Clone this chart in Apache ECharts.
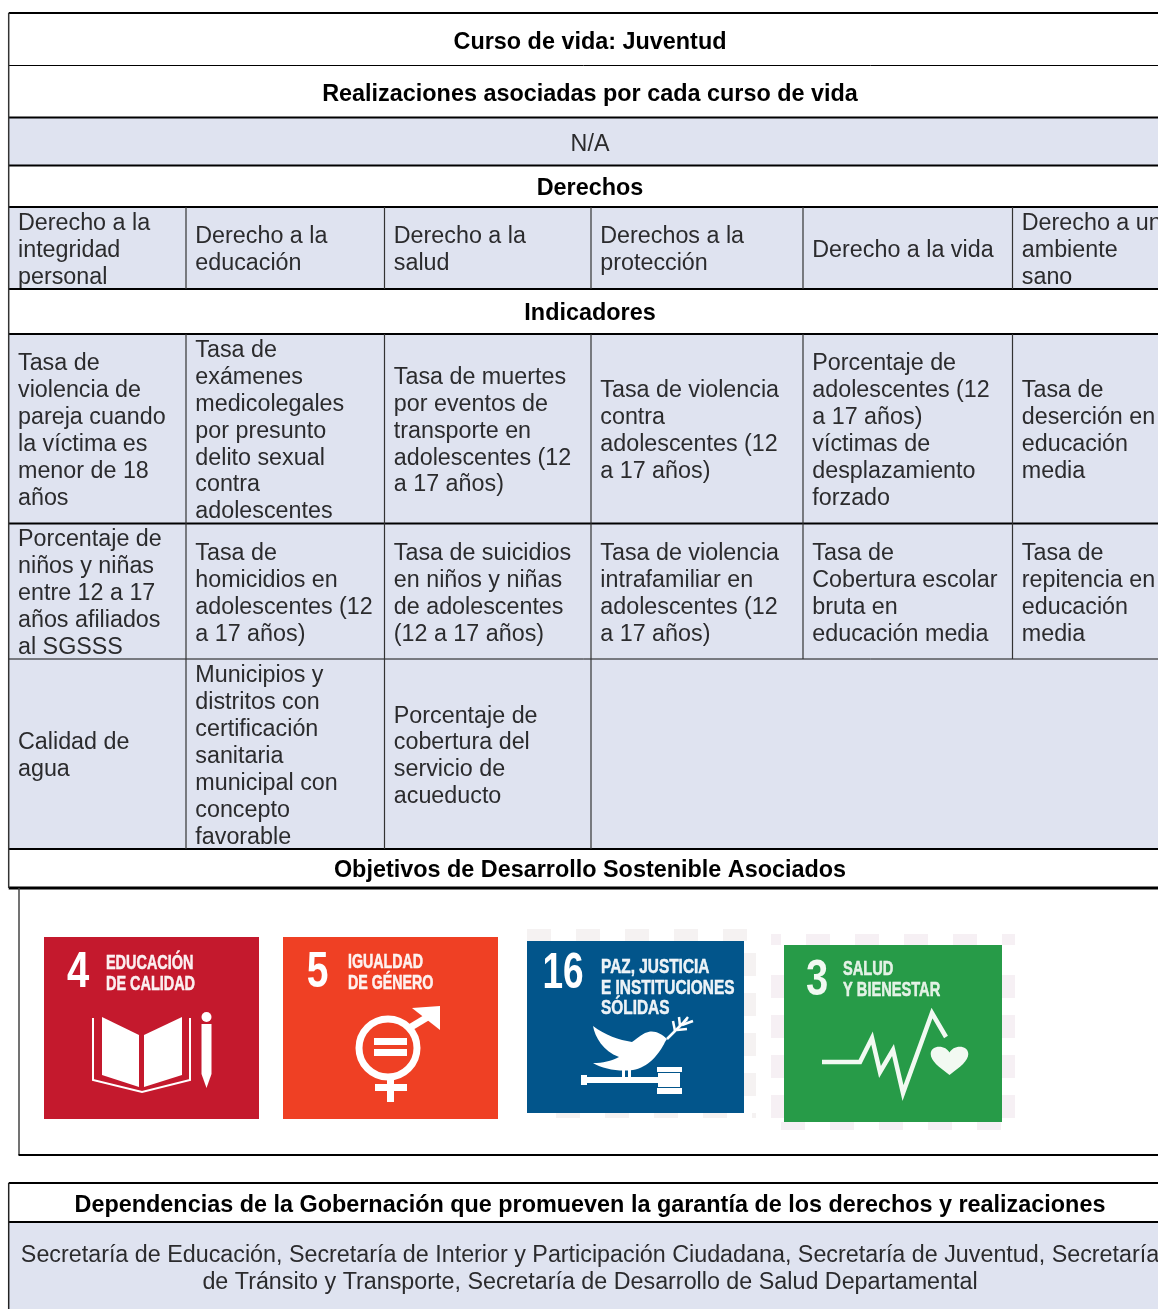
<!DOCTYPE html>
<html lang="es">
<head>
    <meta charset="UTF-8">
    <title>Curso de vida: Juventud</title>
    <script src="https://cdn.jsdelivr.net/npm/echarts@6/dist/echarts.min.js"></script>
</head>
<style>
    *{
        margin: 0;
        padding: 0;
    }
    html,body{
        width: 100%;
        height: 100%;
        overflow: hidden;
        background: #fff;
    }
    .container{
        width: 1158px;
        height: 1309px;
    }
</style>
<body>
<div class="container"></div>
<script>
    // table text
    let courseTitle='Curso de vida: Juventud';
    let fulfilmentsTitle='Realizaciones asociadas por cada curso de vida';
    let fulfilmentsValue='N/A';
    let rightsTitle='Derechos';
    let rights=[
        'Derecho a la\nintegridad\npersonal',
        'Derecho a la\neducación',
        'Derecho a la\nsalud',
        'Derechos a la\nprotección',
        'Derecho a la vida',
        'Derecho a un\nambiente\nsano'
    ];
    let indicatorsTitle='Indicadores';
    let indicatorsRow1=[
        'Tasa de\nviolencia de\npareja cuando\nla víctima es\nmenor de 18\naños',
        'Tasa de\nexámenes\nmedicolegales\npor presunto\ndelito sexual\ncontra\nadolescentes',
        'Tasa de muertes\npor eventos de\ntransporte en\nadolescentes (12\na 17 años)',
        'Tasa de violencia\ncontra\nadolescentes (12\na 17 años)',
        'Porcentaje de\nadolescentes (12\na 17 años)\nvíctimas de\ndesplazamiento\nforzado',
        'Tasa de\ndeserción en\neducación\nmedia'
    ];
    let indicatorsRow2=[
        'Porcentaje de\nniños y niñas\nentre 12 a 17\naños afiliados\nal SGSSS',
        'Tasa de\nhomicidios en\nadolescentes (12\na 17 años)',
        'Tasa de suicidios\nen niños y niñas\nde adolescentes\n(12 a 17 años)',
        'Tasa de violencia\nintrafamiliar en\nadolescentes (12\na 17 años)',
        'Tasa de\nCobertura escolar\nbruta en\neducación media',
        'Tasa de\nrepitencia en\neducación\nmedia'
    ];
    let indicatorsRow3=[
        'Calidad de\nagua',
        'Municipios y\ndistritos con\ncertificación\nsanitaria\nmunicipal con\nconcepto\nfavorable',
        'Porcentaje de\ncobertura del\nservicio de\nacueducto'
    ];
    let sdgTitle='Objetivos de Desarrollo Sostenible Asociados';
    let officesTitle='Dependencias de la Gobernación que promueven la garantía de los derechos y realizaciones';
    let officesText='Secretaría de Educación, Secretaría de Interior y Participación Ciudadana, Secretaría de Juventud, Secretaría\nde Tránsito y Transporte, Secretaría de Desarrollo de Salud Departamental';

    // SDG tiles
    let tileNumbers=['4','5','16','3'];
    let tileTitles=[
        ['EDUCACIÓN','DE CALIDAD'],
        ['IGUALDAD','DE GÉNERO'],
        ['PAZ, JUSTICIA','E INSTITUCIONES','SÓLIDAS'],
        ['SALUD','Y BIENESTAR']
    ];

    // layout, in page pixels (the hidden axes run 1:1 with the page)
    let left=8.7, right=1158, center=590;
    let colEdges=[8.7,186,384.5,591,803,1012.5,1158];
    let rowY={top:13,a:65.5,b:117.5,c:165.5,d:207,e:289,f:334,g:523.5,h:659,i:849,j:888,frame:1155,k:1183,l:1222,bottom:1309};
    let tileBoxes=[[44,937,259,1119],[283,937,498,1119],[527,941,744,1113],[784,945,1002,1122]];
    let tileColors=['#c4192d','#ef4024','#02558b','#279b48'];
    let textColor='#2b2b2d', fillBlue='#dfe3f0';
    let font='"Liberation Sans", Arial, sans-serif';

    let cells=[];
    function band(y0,y1,text,bold,fill,dy){
        cells.push({x0:left,y0,x1:right,y1,text,bold,fill,align:'center',dy:dy||0});
    }
    function cols(y0,y1,texts){
        texts.forEach((text,i)=>{
            cells.push({x0:colEdges[i],y0,x1:colEdges[i+1],y1,text,fill:fillBlue,align:'left',dy:0});
        });
    }
    band(rowY.top,rowY.a,courseTitle,true,null,1);
    band(rowY.a,rowY.b,fulfilmentsTitle,true,null,1);
    band(rowY.b,rowY.c,fulfilmentsValue,false,fillBlue,1);
    band(rowY.c,rowY.d,rightsTitle,true);
    band(rowY.d,rowY.e,'',false,fillBlue);
    cols(rowY.d,rowY.e,rights);
    band(rowY.e,rowY.f,indicatorsTitle,true);
    band(rowY.f,rowY.i,'',false,fillBlue);
    cols(rowY.f,rowY.g,indicatorsRow1);
    cols(rowY.g,rowY.h,indicatorsRow2);
    cols(rowY.h,rowY.i,indicatorsRow3);
    band(rowY.i,rowY.j,sdgTitle,true);
    band(rowY.k,rowY.l,officesTitle,true,null,1);
    band(rowY.l,rowY.bottom,officesText,false,fillBlue,1.5);

    // [x0,y0,x1,y1,width,colour]
    let rules=[
        [left,rowY.top,right,rowY.top,2,'#000'],
        [left,rowY.a,right,rowY.a,1,'#000'],
        [left,rowY.b,right,rowY.b,2,'#000'],
        [left,rowY.c,right,rowY.c,2,'#000'],
        [left,rowY.d,right,rowY.d,2,'#000'],
        [left,rowY.e,right,rowY.e,2,'#000'],
        [left,rowY.f,right,rowY.f,2,'#000'],
        [left,rowY.g,right,rowY.g,2,'#000'],
        [left,rowY.h,right,rowY.h,1,'#111'],
        [left,rowY.i,right,rowY.i,2,'#000'],
        [left,rowY.j,right,rowY.j,3,'#000'],
        [left,rowY.top,left,rowY.j,1.5,'#333'],
        [19,rowY.j,19,rowY.frame,1.5,'#444'],
        [18.5,rowY.frame,right,rowY.frame,2,'#000'],
        [left,rowY.k,right,rowY.k,2,'#000'],
        [left,rowY.l,right,rowY.l,2,'#000'],
        [left,rowY.k,left,rowY.bottom,1.5,'#222']
    ];
    colEdges.slice(1,6).forEach((x,i)=>{
        rules.push([x,rowY.d,x,rowY.e,1.2,'#333']);
        rules.push([x,rowY.f,x,rowY.h,1.2,'#333']);
        if(i<3){
            rules.push([x,rowY.h,x,rowY.i,1.2,'#333']);
        }
    });

    function renderCell(params,api){
        let c=cells[params.dataIndex];
        let p0=api.coord([c.x0,c.y0]);
        let p1=api.coord([c.x1,c.y1]);
        let children=[];
        if(c.fill){
            children.push({type:'rect',shape:{x:p0[0],y:p0[1],width:p1[0]-p0[0],height:p1[1]-p0[1]},style:{fill:c.fill}});
        }
        if(c.text){
            let isCenter=c.align=='center';
            children.push({
                type:'text',
                style:{
                    text:c.text,
                    x:isCenter?api.coord([center,0])[0]:p0[0]+9.3,
                    y:(p0[1]+p1[1])/2+2.5+c.dy,
                    align:isCenter?'center':'left',
                    verticalAlign:'middle',
                    fontFamily:font,
                    fontSize:c.bold?23.4:23.3,
                    fontWeight:c.bold?'bold':'normal',
                    lineHeight:26.9,
                    fill:c.bold?'#000':textColor
                }
            });
        }
        return {type:'group',children};
    }

    function renderRule(params,api){
        let p0=api.coord([api.value(0),api.value(1)]);
        let p1=api.coord([api.value(2),api.value(3)]);
        let r=rules[params.dataIndex];
        return {
            type:'line',
            shape:{x1:p0[0],y1:p0[1],x2:p1[0],y2:p1[1]},
            style:{stroke:r[5],lineWidth:r[4]}
        };
    }

    // white pictogram of each tile, in tile-local pixels
    let iconInk=['#fff','#fff','#fff','#f2f9f2'];
    function poly(points,ink){
        return {type:'polygon',shape:{points},style:{fill:ink}};
    }
    function stroke(points,ink,w){
        return {type:'polyline',shape:{points},style:{stroke:ink,lineWidth:w,fill:null,lineJoin:'miter'}};
    }
    function box(x,y,width,height,ink){
        return {type:'rect',shape:{x,y,width,height},style:{fill:ink}};
    }
    let icons=[
        ink=>[
            poly([[58,80],[95,98],[95,150],[58,138]],ink),
            poly([[100,98],[138,80],[138,138],[100,150]],ink),
            stroke([[49,81],[49,143],[98,155],[146,143],[146,81]],ink,2),
            {type:'circle',shape:{cx:162.5,cy:80,r:5},style:{fill:ink}},
            box(157.5,87,10,50,ink),
            poly([[157.5,137],[167.5,137],[162.5,151]],ink)
        ],
        ink=>[
            {type:'circle',shape:{cx:105,cy:111,r:29},style:{fill:null,stroke:ink,lineWidth:7}},
            box(91,101,33,7,ink),
            box(91,112,33,7,ink),
            stroke([[128,90],[148,78]],ink,7),
            poly([[129,71],[157,69],[157,93]],ink),
            box(104,143,7,22,ink),
            box(92,147,32,7,ink)
        ],
        ink=>[
            {type:'path',shape:{pathData:'M140 98 C134 92 126 88 118 92 C112 95 108 99 105 101 C92 99 78 94 66 85 C68 96 76 110 92 116 C84 120 76 122 66 122 C76 128 92 131 106 129 C120 127 132 114 138 101 Z'},style:{fill:ink}},
            stroke([[140,98],[160,78]],ink,2.5),
            stroke([[148,90],[146,80]],ink,2.5),
            stroke([[153,85],[152,76]],ink,2.5),
            stroke([[157,81],[161,76]],ink,2.5),
            stroke([[150,89],[160,88]],ink,2.5),
            stroke([[155,84],[166,80]],ink,2.5),
            box(95,129,3,8,ink),
            box(101,129,3,8,ink),
            box(55,136,76,6,ink),
            box(54,134,6,10,ink),
            box(130,126,25,5,ink),
            box(131,132,22,14,ink),
            box(130,147,25,6,ink)
        ],
        ink=>[
            stroke([[38,117],[76,117],[88,93],[96,127],[109,105],[119,148],[148,68],[162,92]],ink,4.5),
            {type:'path',shape:{pathData:'M165.5 130 C155 122 146.7 116 146.7 109 C146.7 104 151 101.7 155 101.7 C160 101.7 163.5 104 165.5 107.5 C167.5 104 171 101.7 176 101.7 C180 101.7 184.3 104 184.3 109 C184.3 116 176 122 165.5 130 Z'},style:{fill:ink}}
        ]
    ];
    // tile-local placement of the number [x,y,scale] and the title lines [x,y,pitch,scale]
    let numberAt=[[34,36.5,0.8],[34.5,36.5,0.78],[36,33.5,0.74],[33,36.5,0.8]];
    let titleAt=[[62,27,21,0.74],[65,26,21,0.73],[74,26.7,20.5,0.79],[59,24.7,21.3,0.75]];

    function renderTile(params,api){
        let i=params.dataIndex;
        let p0=api.coord([api.value(0),api.value(1)]);
        let p1=api.coord([api.value(2),api.value(3)]);
        let ink=iconInk[i];
        let children=[
            {type:'rect',shape:{x:0,y:0,width:p1[0]-p0[0],height:p1[1]-p0[1]},style:{fill:tileColors[i]}},
            {type:'text',x:numberAt[i][0],y:numberAt[i][1],scaleX:numberAt[i][2],style:{
                text:tileNumbers[i],x:0,y:0,align:'center',verticalAlign:'middle',
                fontFamily:font,fontWeight:'bold',fontSize:50,fill:ink
            }}
        ];
        tileTitles[i].forEach((line,k)=>{
            children.push({type:'text',x:titleAt[i][0],y:titleAt[i][1]+k*titleAt[i][2],scaleX:titleAt[i][3],style:{
                text:line,x:0,y:0,align:'left',verticalAlign:'middle',
                fontFamily:font,fontWeight:'bold',fontSize:19.5,fill:ink,opacity:0.92,
                stroke:ink,lineWidth:0.5
            }});
        });
        return {type:'group',x:p0[0],y:p0[1],children:children.concat(icons[i](ink))};
    }

    // faint checkered halo left around the pasted tiles 16 and 3
    let halos=[
        {box:[527,929,756,1118],top:527,bottom:556,side:953,hasLeft:false,tile:2,fill:'#f5f2f2'},
        {box:[771,934,1015,1130],top:757,bottom:781,side:975,hasLeft:true,tile:3,fill:'#f6f0f4'}
    ];
    function renderHalo(params,api){
        let h=halos[params.dataIndex];
        let t=tileBoxes[h.tile];
        let children=[];
        let step=49, size=24, sideStep=40, sideSize=23;
        function add(x0,y0,x1,y1){
            x0=Math.max(x0,h.box[0]);
            x1=Math.min(x1,h.box[2]);
            if(x1<=x0){return;}
            let p=api.coord([x0,y0]);
            let q=api.coord([x1,y1]);
            children.push({type:'rect',shape:{x:p[0],y:p[1],width:q[0]-p[0],height:q[1]-p[1]},style:{fill:h.fill}});
        }
        for(let x=h.top;x<h.box[2];x+=step){
            add(x,h.box[1],x+size,t[1]);
        }
        for(let x=h.bottom;x<h.box[2];x+=step){
            add(x,t[3],x+size,h.box[3]);
        }
        for(let y=h.side;y+sideSize<t[3];y+=sideStep){
            if(h.hasLeft){
                add(h.box[0],y,t[0],y+sideSize);
            }
            add(t[2],y,h.box[2],y+sideSize);
        }
        return {type:'group',children};
    }

    let mychart=echarts.init(document.querySelector('.container'));
    mychart.setOption({
        animation:false,
        backgroundColor:'#fff',
        grid:{left:0,right:0,top:0,bottom:0},
        xAxis:{type:'value',min:0,max:1158,show:false},
        yAxis:{type:'value',min:0,max:1309,inverse:true,show:false},
        series:[
            {type:'custom',silent:true,renderItem:renderCell,data:cells.map(c=>[c.x0,c.y0,c.x1,c.y1])},
            {type:'custom',silent:true,renderItem:renderHalo,data:halos.map(h=>h.box)},
            {type:'custom',silent:true,renderItem:renderTile,data:tileBoxes},
            {type:'custom',silent:true,renderItem:renderRule,data:rules.map(r=>r.slice(0,4))}
        ]
    });
</script>
</body>
</html>
